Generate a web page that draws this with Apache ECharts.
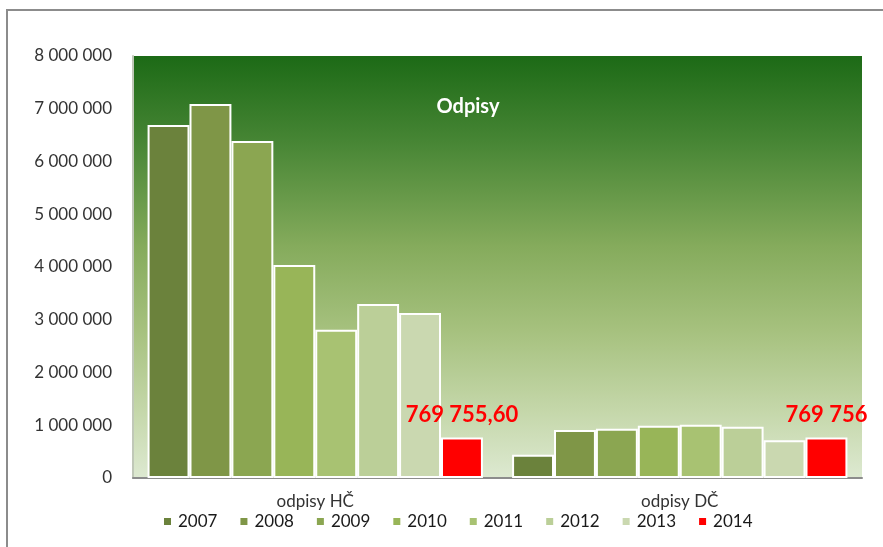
<!DOCTYPE html>
<html>
<head>
<meta charset="utf-8">
<script src="https://cdn.jsdelivr.net/npm/echarts@6/dist/echarts.min.js"></script>
<style>
    html, body { margin: 0; padding: 0; background: #fff; }
    #chart { width: 883px; height: 547px; }
</style>
</head>
<body>
<div id="chart"></div>
<script>
// kategorie a roky
const categories = ['odpisy HČ', 'odpisy DČ'];
const years = ['2007', '2008', '2009', '2010', '2011', '2012', '2013', '2014'];
const yearColors = ['#6b823c', '#7f9647', '#8ba651', '#98b558', '#a8c272', '#bbcf98', '#cad8b0', '#ff0000'];

// hodnoty po rocich [HČ, DČ]
const odpisy2007 = [6690000, 440000];
const odpisy2008 = [7090000, 910000];
const odpisy2009 = [6390000, 935000];
const odpisy2010 = [4040000, 990000];
const odpisy2011 = [2810000, 1010000];
const odpisy2012 = [3300000, 970000];
const odpisy2013 = [3130000, 715000];
const odpisy2014 = [769755.6, 769756];
const labels2014 = ['769 755,60', '769 756'];

const yTicks = [0, 1000000, 2000000, 3000000, 4000000, 5000000, 6000000, 7000000, 8000000];

const allValues = [odpisy2007, odpisy2008, odpisy2009, odpisy2010, odpisy2011, odpisy2012, odpisy2013, odpisy2014];

const font = 'Lato, "Open Sans", sans-serif';

const chart = echarts.init(document.getElementById('chart'), null, { renderer: 'canvas' });

const series = years.map((year, i) => {
    const s = {
        name: year,
        type: 'bar',
        barGap: 0,
        barCategoryGap: '8%',
        itemStyle: {
            color: yearColors[i],
            borderColor: '#ffffff',
            borderWidth: 2
        },
        data: allValues[i]
    };
    if (year === '2014') {
        s.label = {
            show: true,
            position: 'top',
            distance: 11,
            color: '#ff0000',
            fontFamily: font,
            fontWeight: 'bold',
            fontSize: 22,
            formatter: p => labels2014[p.dataIndex]
        };
    }
    return s;
});

chart.setOption({
    animation: false,
    title: {
        text: 'Odpisy',
        left: 463,
        top: 92,
        textAlign: 'center',
        textStyle: {
            color: '#ffffff',
            fontFamily: font,
            fontWeight: 'bold',
            fontSize: 20
        }
    },
    graphic: [
        {
            type: 'rect',
            shape: { x: 7, y: 10, width: 900, height: 600 },
            style: { fill: 'none', stroke: '#8c8c8c', lineWidth: 2 },
            z: -10
        }
    ],
    legend: {
        data: years,
        left: 162,
        top: 513,
        padding: 0,
        itemWidth: 9,
        itemHeight: 9,
        itemGap: 21,
        icon: 'rect',
        textStyle: {
            color: '#1a1a1a',
            fontFamily: font,
            fontSize: 17,
            padding: [0, 0, 0, 1]
        }
    },
    grid: {
        left: 133,
        right: 21,
        top: 56,
        bottom: 69,
        show: true,
        borderWidth: 0,
        backgroundColor: new echarts.graphic.LinearGradient(0, 0, 0, 1, [
            { offset: 0, color: '#1c6a16' },
            { offset: 0.2, color: '#468534' },
            { offset: 0.45, color: '#85ab5c' },
            { offset: 0.65, color: '#a6c17e' },
            { offset: 0.85, color: '#c6d8ac' },
            { offset: 1, color: '#dde9d1' }
        ])
    },
    xAxis: {
        type: 'category',
        data: categories,
        axisLine: { lineStyle: { color: '#8c8c8c', width: 2 } },
        axisTick: { show: false },
        axisLabel: {
            color: '#333333',
            fontFamily: font,
            fontSize: 17,
            margin: 15
        }
    },
    yAxis: {
        type: 'value',
        min: 0,
        max: 8000000,
        interval: 1000000,
        axisLine: { show: true, lineStyle: { color: '#c0c8b8', width: 2 } },
        axisTick: { show: false },
        splitLine: { show: false },
        axisLabel: {
            color: '#333333',
            fontFamily: font,
            fontSize: 17,
            margin: 21,
            formatter: v => yTicks.includes(v) ? String(v).replace(/\B(?=(\d{3})+(?!\d))/g, ' ') : ''
        }
    },
    series
});
</script>
</body>
</html>
